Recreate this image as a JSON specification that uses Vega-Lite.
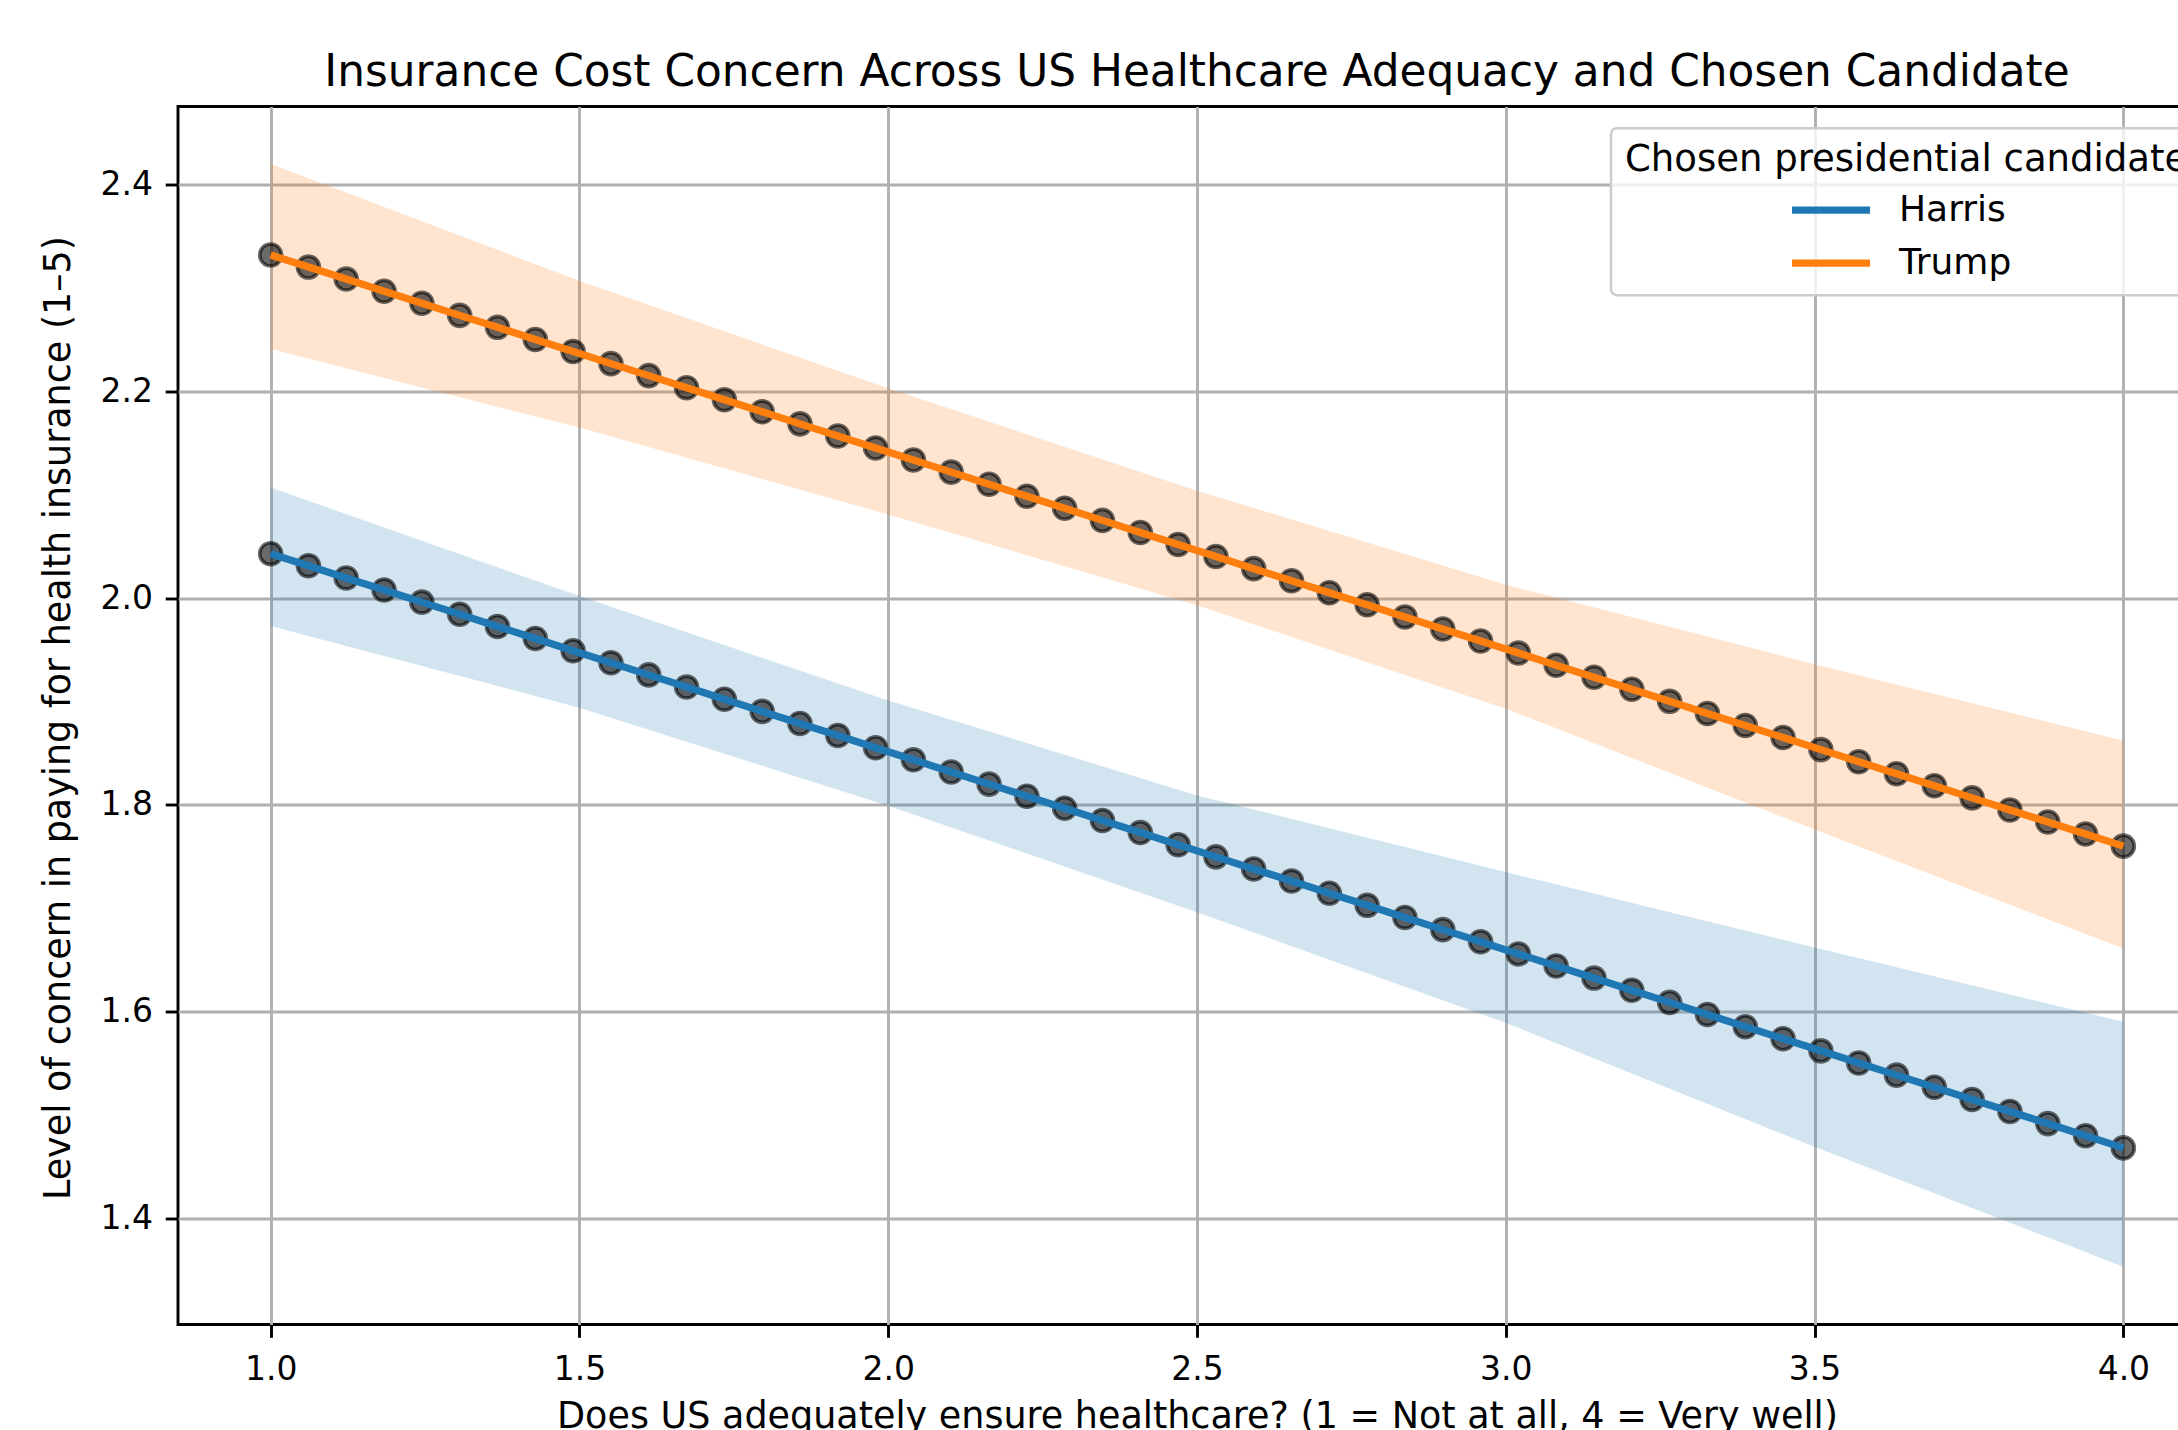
{
  "$schema": "https://vega.github.io/schema/vega-lite/v6.json",
  "autosize": {"type": "none"},
  "padding": {"left": 178, "top": 106.5, "right": 0, "bottom": 105.5},
  "width": 2038,
  "height": 1218,
  "background": "white",
  "title": {
    "text": "Insurance Cost Concern Across US Healthcare Adequacy and Chosen Candidate",
    "font": "DejaVu Sans",
    "fontSize": 43.8,
    "fontWeight": "normal",
    "color": "black",
    "anchor": "middle",
    "baseline": "alphabetic",
    "offset": 11,
    "dy": 34
  },
  "datasets": {
    "pts": [
      {"x": 1.0, "y": 2.0430, "candidate": "Harris"},
      {"x": 1.0612, "y": 2.0313, "candidate": "Harris"},
      {"x": 1.1224, "y": 2.0195, "candidate": "Harris"},
      {"x": 1.1837, "y": 2.0078, "candidate": "Harris"},
      {"x": 1.2449, "y": 1.9961, "candidate": "Harris"},
      {"x": 1.3061, "y": 1.9843, "candidate": "Harris"},
      {"x": 1.3673, "y": 1.9726, "candidate": "Harris"},
      {"x": 1.4286, "y": 1.9609, "candidate": "Harris"},
      {"x": 1.4898, "y": 1.9491, "candidate": "Harris"},
      {"x": 1.5510, "y": 1.9374, "candidate": "Harris"},
      {"x": 1.6122, "y": 1.9257, "candidate": "Harris"},
      {"x": 1.6735, "y": 1.9139, "candidate": "Harris"},
      {"x": 1.7347, "y": 1.9022, "candidate": "Harris"},
      {"x": 1.7959, "y": 1.8904, "candidate": "Harris"},
      {"x": 1.8571, "y": 1.8787, "candidate": "Harris"},
      {"x": 1.9184, "y": 1.8670, "candidate": "Harris"},
      {"x": 1.9796, "y": 1.8552, "candidate": "Harris"},
      {"x": 2.0408, "y": 1.8435, "candidate": "Harris"},
      {"x": 2.1020, "y": 1.8318, "candidate": "Harris"},
      {"x": 2.1633, "y": 1.8200, "candidate": "Harris"},
      {"x": 2.2245, "y": 1.8083, "candidate": "Harris"},
      {"x": 2.2857, "y": 1.7966, "candidate": "Harris"},
      {"x": 2.3469, "y": 1.7848, "candidate": "Harris"},
      {"x": 2.4082, "y": 1.7731, "candidate": "Harris"},
      {"x": 2.4694, "y": 1.7614, "candidate": "Harris"},
      {"x": 2.5306, "y": 1.7496, "candidate": "Harris"},
      {"x": 2.5918, "y": 1.7379, "candidate": "Harris"},
      {"x": 2.6531, "y": 1.7262, "candidate": "Harris"},
      {"x": 2.7143, "y": 1.7144, "candidate": "Harris"},
      {"x": 2.7755, "y": 1.7027, "candidate": "Harris"},
      {"x": 2.8367, "y": 1.6910, "candidate": "Harris"},
      {"x": 2.8980, "y": 1.6792, "candidate": "Harris"},
      {"x": 2.9592, "y": 1.6675, "candidate": "Harris"},
      {"x": 3.0204, "y": 1.6557, "candidate": "Harris"},
      {"x": 3.0816, "y": 1.6440, "candidate": "Harris"},
      {"x": 3.1429, "y": 1.6323, "candidate": "Harris"},
      {"x": 3.2041, "y": 1.6205, "candidate": "Harris"},
      {"x": 3.2653, "y": 1.6088, "candidate": "Harris"},
      {"x": 3.3265, "y": 1.5971, "candidate": "Harris"},
      {"x": 3.3878, "y": 1.5853, "candidate": "Harris"},
      {"x": 3.4490, "y": 1.5736, "candidate": "Harris"},
      {"x": 3.5102, "y": 1.5619, "candidate": "Harris"},
      {"x": 3.5714, "y": 1.5501, "candidate": "Harris"},
      {"x": 3.6327, "y": 1.5384, "candidate": "Harris"},
      {"x": 3.6939, "y": 1.5267, "candidate": "Harris"},
      {"x": 3.7551, "y": 1.5149, "candidate": "Harris"},
      {"x": 3.8163, "y": 1.5032, "candidate": "Harris"},
      {"x": 3.8776, "y": 1.4915, "candidate": "Harris"},
      {"x": 3.9388, "y": 1.4797, "candidate": "Harris"},
      {"x": 4.0, "y": 1.4680, "candidate": "Harris"},
      {"x": 1.0, "y": 2.3320, "candidate": "Trump"},
      {"x": 1.0612, "y": 2.3203, "candidate": "Trump"},
      {"x": 1.1224, "y": 2.3087, "candidate": "Trump"},
      {"x": 1.1837, "y": 2.2970, "candidate": "Trump"},
      {"x": 1.2449, "y": 2.2853, "candidate": "Trump"},
      {"x": 1.3061, "y": 2.2736, "candidate": "Trump"},
      {"x": 1.3673, "y": 2.2620, "candidate": "Trump"},
      {"x": 1.4286, "y": 2.2503, "candidate": "Trump"},
      {"x": 1.4898, "y": 2.2386, "candidate": "Trump"},
      {"x": 1.5510, "y": 2.2269, "candidate": "Trump"},
      {"x": 1.6122, "y": 2.2153, "candidate": "Trump"},
      {"x": 1.6735, "y": 2.2036, "candidate": "Trump"},
      {"x": 1.7347, "y": 2.1919, "candidate": "Trump"},
      {"x": 1.7959, "y": 2.1803, "candidate": "Trump"},
      {"x": 1.8571, "y": 2.1686, "candidate": "Trump"},
      {"x": 1.9184, "y": 2.1569, "candidate": "Trump"},
      {"x": 1.9796, "y": 2.1452, "candidate": "Trump"},
      {"x": 2.0408, "y": 2.1336, "candidate": "Trump"},
      {"x": 2.1020, "y": 2.1219, "candidate": "Trump"},
      {"x": 2.1633, "y": 2.1102, "candidate": "Trump"},
      {"x": 2.2245, "y": 2.0985, "candidate": "Trump"},
      {"x": 2.2857, "y": 2.0869, "candidate": "Trump"},
      {"x": 2.3469, "y": 2.0752, "candidate": "Trump"},
      {"x": 2.4082, "y": 2.0635, "candidate": "Trump"},
      {"x": 2.4694, "y": 2.0518, "candidate": "Trump"},
      {"x": 2.5306, "y": 2.0402, "candidate": "Trump"},
      {"x": 2.5918, "y": 2.0285, "candidate": "Trump"},
      {"x": 2.6531, "y": 2.0168, "candidate": "Trump"},
      {"x": 2.7143, "y": 2.0052, "candidate": "Trump"},
      {"x": 2.7755, "y": 1.9935, "candidate": "Trump"},
      {"x": 2.8367, "y": 1.9818, "candidate": "Trump"},
      {"x": 2.8980, "y": 1.9701, "candidate": "Trump"},
      {"x": 2.9592, "y": 1.9585, "candidate": "Trump"},
      {"x": 3.0204, "y": 1.9468, "candidate": "Trump"},
      {"x": 3.0816, "y": 1.9351, "candidate": "Trump"},
      {"x": 3.1429, "y": 1.9234, "candidate": "Trump"},
      {"x": 3.2041, "y": 1.9118, "candidate": "Trump"},
      {"x": 3.2653, "y": 1.9001, "candidate": "Trump"},
      {"x": 3.3265, "y": 1.8884, "candidate": "Trump"},
      {"x": 3.3878, "y": 1.8768, "candidate": "Trump"},
      {"x": 3.4490, "y": 1.8651, "candidate": "Trump"},
      {"x": 3.5102, "y": 1.8534, "candidate": "Trump"},
      {"x": 3.5714, "y": 1.8417, "candidate": "Trump"},
      {"x": 3.6327, "y": 1.8301, "candidate": "Trump"},
      {"x": 3.6939, "y": 1.8184, "candidate": "Trump"},
      {"x": 3.7551, "y": 1.8067, "candidate": "Trump"},
      {"x": 3.8163, "y": 1.7950, "candidate": "Trump"},
      {"x": 3.8776, "y": 1.7834, "candidate": "Trump"},
      {"x": 3.9388, "y": 1.7717, "candidate": "Trump"},
      {"x": 4.0, "y": 1.7600, "candidate": "Trump"}
    ],
    "bands": [
      {"x": 1.0, "lo": 1.973, "hi": 2.107, "candidate": "Harris"},
      {"x": 1.5, "lo": 1.894, "hi": 2.002, "candidate": "Harris"},
      {"x": 2.0, "lo": 1.799, "hi": 1.901, "candidate": "Harris"},
      {"x": 2.5, "lo": 1.696, "hi": 1.809, "candidate": "Harris"},
      {"x": 3.0, "lo": 1.589, "hi": 1.735, "candidate": "Harris"},
      {"x": 3.5, "lo": 1.469, "hi": 1.662, "candidate": "Harris"},
      {"x": 4.0, "lo": 1.353, "hi": 1.590, "candidate": "Harris"},
      {"x": 1.0, "lo": 2.241, "hi": 2.420, "candidate": "Trump"},
      {"x": 1.5, "lo": 2.165, "hi": 2.307, "candidate": "Trump"},
      {"x": 2.0, "lo": 2.081, "hi": 2.203, "candidate": "Trump"},
      {"x": 2.5, "lo": 1.993, "hi": 2.104, "candidate": "Trump"},
      {"x": 3.0, "lo": 1.893, "hi": 2.013, "candidate": "Trump"},
      {"x": 3.5, "lo": 1.776, "hi": 1.936, "candidate": "Trump"},
      {"x": 4.0, "lo": 1.661, "hi": 1.862, "candidate": "Trump"}
    ]
  },
  "layer": [
    {
      "data": {"name": "bands"},
      "transform": [{"filter": "datum.candidate === 'Harris'"}],
      "mark": {"type": "area", "fill": "#1f77b4", "fillOpacity": 0.2},
      "encoding": {
        "x": {"field": "x", "type": "quantitative", "scale": {"domain": [0.85, 4.15], "nice": false, "zero": false},
              "axis": {"title": "Does US adequately ensure healthcare? (1 = Not at all, 4 = Very well)", "values": [1, 1.5, 2, 2.5, 3, 3.5, 4], "format": ".1f"}},
        "y": {"field": "lo", "type": "quantitative", "scale": {"domain": [1.2971, 2.4757], "nice": false, "zero": false},
              "axis": {"title": "Level of concern in paying for health insurance (1–5)", "values": [1.4, 1.6, 1.8, 2.0, 2.2, 2.4], "format": ".1f"}},
        "y2": {"field": "hi"}
      }
    },
    {
      "data": {"name": "bands"},
      "transform": [{"filter": "datum.candidate === 'Trump'"}],
      "mark": {"type": "area", "fill": "#ff7f0e", "fillOpacity": 0.2},
      "encoding": {
        "x": {"field": "x", "type": "quantitative", "axis": {"title": "Does US adequately ensure healthcare? (1 = Not at all, 4 = Very well)"}},
        "y": {"field": "lo", "type": "quantitative", "axis": {"title": "Level of concern in paying for health insurance (1–5)"}},
        "y2": {"field": "hi"}
      }
    },
    {
      "data": {"name": "pts"},
      "mark": {"type": "circle", "size": 480, "fill": "black", "fillOpacity": 0.58, "stroke": "black", "strokeOpacity": 0.58, "strokeWidth": 3.65, "opacity": 1},
      "encoding": {
        "x": {"field": "x", "type": "quantitative", "axis": {"title": "Does US adequately ensure healthcare? (1 = Not at all, 4 = Very well)"}},
        "y": {"field": "y", "type": "quantitative", "axis": {"title": "Level of concern in paying for health insurance (1–5)"}},
        "detail": {"field": "candidate"}
      }
    },
    {
      "data": {"name": "pts"},
      "mark": {"type": "line", "strokeWidth": 7.3},
      "encoding": {
        "x": {"field": "x", "type": "quantitative", "axis": {"title": "Does US adequately ensure healthcare? (1 = Not at all, 4 = Very well)"}},
        "y": {"field": "y", "type": "quantitative", "axis": {"title": "Level of concern in paying for health insurance (1–5)"}},
        "stroke": {"field": "candidate", "type": "nominal", "scale": {"domain": ["Harris", "Trump"], "range": ["#1f77b4", "#ff7f0e"]},
                   "legend": {
                     "title": "Chosen presidential candidate",
                     "orient": "none",
                     "legendX": 1433,
                     "legendY": 21.7,
                     "padding": 14,
                     "fillColor": "rgba(255,255,255,0.8)",
                     "strokeColor": "#cccccc",
                     "cornerRadius": 6,
                     "symbolType": "M-3,0H3",
                     "symbolSize": 676,
                     "symbolStrokeWidth": 7.3,
                     "symbolOffset": 188,
                     "labelOffset": 50,
                     "rowPadding": 17,
                     "titlePadding": 13,
                     "titleLimit": 2000,
                     "labelLimit": 1000
                   }}
      }
    }
  ],
  "config": {
    "view": {"stroke": "black", "strokeWidth": 2.9},
    "axis": {
      "domain": false,
      "grid": true,
      "gridColor": "#b0b0b0",
      "gridWidth": 2.9,
      "ticks": true,
      "tickColor": "black",
      "tickWidth": 2.9,
      "tickSize": 12.8,
      "labelFont": "DejaVu Sans",
      "labelFontSize": 33,
      "labelColor": "black",
      "titleFont": "DejaVu Sans",
      "titleFontSize": 36.5,
      "titleFontWeight": "normal",
      "titleColor": "black",
      "labelFlush": false,
      "labelOverlap": false
    },
    "axisX": {
      "labelPadding": 15.7,
      "labelBaseline": "top",
      "titleBaseline": "alphabetic",
      "titleY": 102.5,
      "titleX": 1019
    },
    "axisY": {
      "labelPadding": 12.8,
      "titleAngle": -90,
      "titleBaseline": "middle",
      "titleAlign": "center",
      "titleX": -120,
      "titleY": 611
    },
    "legend": {
      "strokeWidth": 2.5,
      "titleFont": "DejaVu Sans",
      "titleFontSize": 37,
      "titleFontWeight": "normal",
      "titleColor": "black",
      "labelFont": "DejaVu Sans",
      "labelFontSize": 36,
      "labelColor": "black"
    }
  }
}
